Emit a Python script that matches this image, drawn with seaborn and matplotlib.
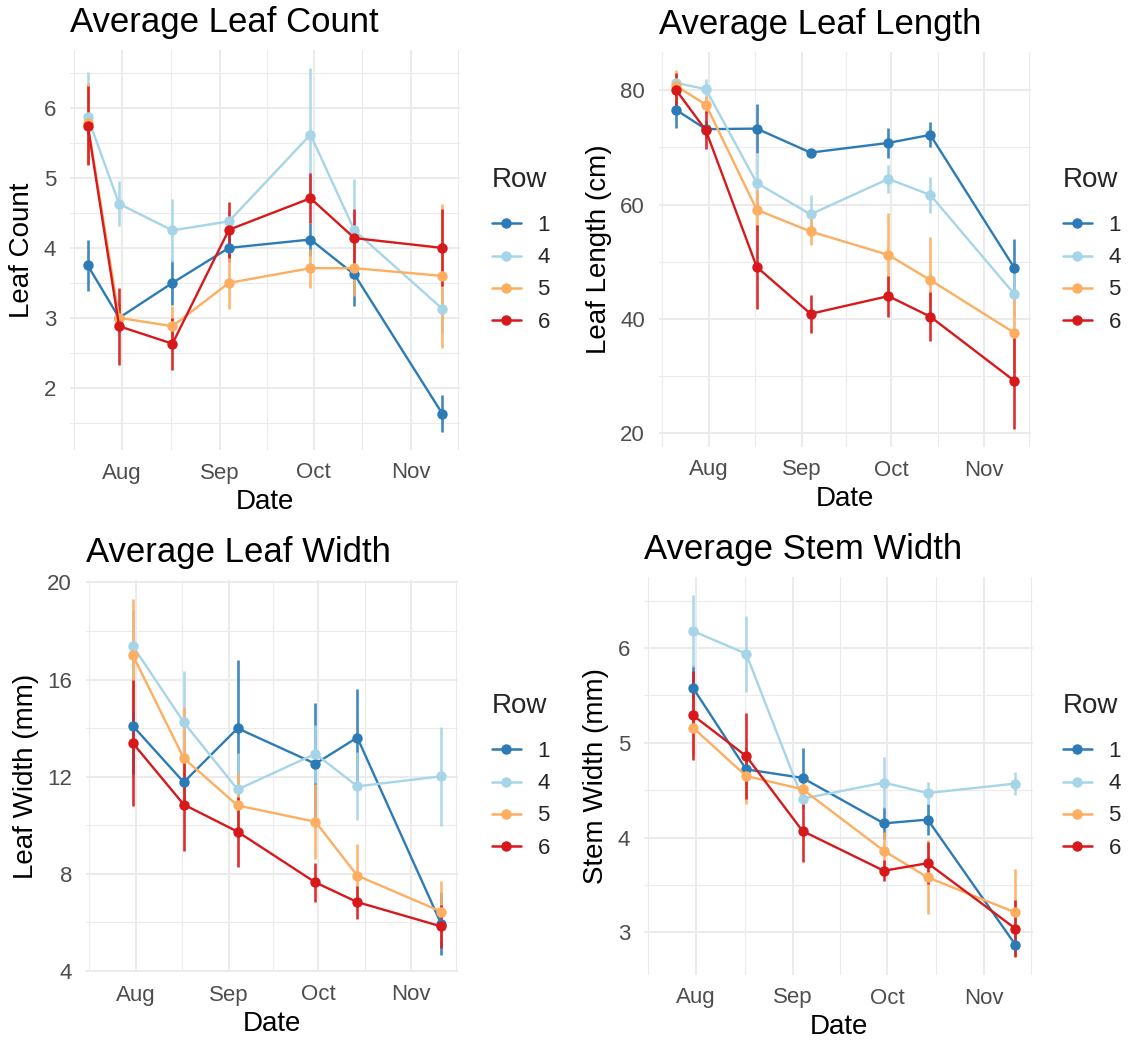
import numpy as np
import pandas as pd
import matplotlib
matplotlib.use("Agg")
import matplotlib.pyplot as plt
import matplotlib.dates as mdates
from matplotlib.lines import Line2D
from matplotlib.ticker import MultipleLocator, AutoMinorLocator
import seaborn as sns

# ---- data -------------------------------------------------------------
dates = pd.to_datetime(["2019-07-21", "2019-07-31", "2019-08-17", "2019-09-04",
                        "2019-09-30", "2019-10-14", "2019-11-11"])
rows = ["1", "4", "5", "6"]
nan = np.nan

count_mean = {
    "1": [3.75, 3.00, 3.50, 4.00, 4.12, 3.62, 1.63],
    "4": [5.87, 4.63, 4.25, 4.38, 5.62, 4.25, 3.13],
    "5": [5.78, 3.00, 2.88, 3.50, 3.71, 3.71, 3.60],
    "6": [5.75, 2.88, 2.63, 4.26, 4.71, 4.14, 4.00],
}
count_se = {
    "1": [0.36, 0.20, 0.32, 0.20, 0.24, 0.45, 0.26],
    "4": [0.64, 0.32, 0.45, 0.15, 0.95, 0.73, 0.35],
    "5": [0.58, 0.20, 0.29, 0.38, 0.28, 0.40, 1.03],
    "6": [0.57, 0.55, 0.37, 0.40, 0.36, 0.41, 0.55],
}
length_mean = {
    "1": [76.6, 73.2, 73.3, 69.1, 70.8, 72.2, 49.0],
    "4": [81.3, 80.2, 63.8, 58.3, 64.5, 61.7, 44.4],
    "5": [80.8, 77.5, 59.1, 55.3, 51.2, 46.8, 37.6],
    "6": [80.1, 73.0, 49.1, 40.9, 44.0, 40.4, 29.2],
}
length_se = {
    "1": [3.2, 1.5, 4.3, 0.7, 2.6, 2.2, 5.0],
    "4": [1.0, 1.7, 5.2, 3.3, 2.4, 3.1, 4.0],
    "5": [2.8, 1.5, 3.5, 2.3, 7.3, 7.5, 6.9],
    "6": [3.0, 3.3, 7.3, 3.3, 3.6, 4.3, 8.4],
}
width_mean = {
    "1": [nan, 14.09, 11.77, 13.99, 12.53, 13.61, 5.94],
    "4": [nan, 17.38, 14.24, 11.47, 12.94, 11.60, 12.01],
    "5": [nan, 17.00, 12.76, 10.81, 10.14, 7.92, 6.44],
    "6": [nan, 13.38, 10.85, 9.73, 7.64, 6.83, 5.83],
}
width_se = {
    "1": [nan, 2.0, 1.0, 2.8, 2.5, 2.0, 1.3],
    "4": [nan, 1.5, 2.1, 1.5, 1.2, 1.4, 2.05],
    "5": [nan, 2.3, 2.1, 1.35, 1.55, 1.3, 1.27],
    "6": [nan, 2.6, 1.9, 1.45, 0.8, 0.68, 0.9],
}
stem_mean = {
    "1": [nan, 5.58, 4.72, 4.63, 4.15, 4.19, 2.87],
    "4": [nan, 6.18, 5.94, 4.41, 4.58, 4.47, 4.57],
    "5": [nan, 5.16, 4.65, 4.51, 3.86, 3.58, 3.21],
    "6": [nan, 5.29, 4.86, 4.07, 3.65, 3.73, 3.04],
}
stem_se = {
    "1": [nan, 0.24, 0.15, 0.32, 0.17, 0.16, 0.10],
    "4": [nan, 0.38, 0.40, 0.10, 0.27, 0.12, 0.12],
    "5": [nan, 0.30, 0.30, 0.15, 0.20, 0.39, 0.46],
    "6": [nan, 0.47, 0.45, 0.33, 0.11, 0.22, 0.30],
}

palette = {"1": "#2C7BB6", "4": "#A6D5E8", "5": "#FDAE61", "6": "#D7191C"}

# ---- style ------------------------------------------------------------
sns.set_theme(style="white")
plt.rcParams["font.family"] = ["Liberation Sans", "DejaVu Sans"]

W, H = 1137, 1044
fig = plt.figure(figsize=(W / 100, H / 100), dpi=100)
fig.patch.set_facecolor("white")


def px_axes(left, top, right, bottom):
    return fig.add_axes([left / W, 1 - bottom / H, (right - left) / W, (bottom - top) / H])


def long_frame(means, ses):
    recs = []
    for r in rows:
        for d, m, s in zip(dates, means[r], ses[r]):
            recs.append({"Date": d, "Row": r, "mean": m, "se": s})
    df = pd.DataFrame(recs)
    df["lo"] = df["mean"] - df["se"]
    df["hi"] = df["mean"] + df["se"]
    return df.dropna()


span = dates.max() - dates.min()
xlim = (dates.min() - 0.05 * span, dates.max() + 0.05 * span)
month_starts = pd.date_range("2019-07-01", "2019-12-01", freq="MS")
mid_months = [a + (b - a) / 2 for a, b in zip(month_starts[:-1], month_starts[1:])]

grid_c = "#EBEBEB"


def panel(box, means, ses, title, ylabel, ylim, ystep, legend_xy):
    ax = px_axes(*box)
    df = long_frame(means, ses)
    for r in rows:
        sub = df[df["Row"] == r]
        ax.vlines(sub["Date"], sub["lo"], sub["hi"], color=palette[r],
                  lw=1.9, alpha=0.9, zorder=3)
    sns.lineplot(data=df, x="Date", y="mean", hue="Row", hue_order=rows,
                 palette=palette, marker="o", markersize=7.5, markeredgewidth=0,
                 linewidth=1.7, errorbar=None, legend=False, ax=ax, zorder=4)

    ax.set_xlim(xlim)
    ax.set_ylim(ylim)
    ax.xaxis.set_major_locator(mdates.MonthLocator())
    ax.xaxis.set_major_formatter(mdates.DateFormatter("%b"))
    ax.set_xticks(mid_months, minor=True)
    ax.yaxis.set_major_locator(MultipleLocator(ystep))
    ax.yaxis.set_minor_locator(AutoMinorLocator(2))

    ax.grid(which="major", color=grid_c, lw=1.4, zorder=0)
    ax.grid(which="minor", color=grid_c, lw=0.8, zorder=0)
    ax.set_axisbelow(True)
    for s in ax.spines.values():
        s.set_visible(False)
    ax.tick_params(which="both", length=0)
    ax.tick_params(axis="x", labelsize=16, labelcolor="#4D4D4D", pad=9)
    ax.tick_params(axis="y", labelsize=16, labelcolor="#4D4D4D", pad=10)

    ax.set_xlabel("Date", fontsize=20, color="black", labelpad=4)
    ax.set_ylabel(ylabel, fontsize=20, color="black", labelpad=6)
    ax.set_title(title, loc="left", fontsize=25, color="black", pad=13)

    handles = [Line2D([0], [0], color=palette[r], lw=1.8, marker="o",
                      markersize=7.5, markeredgewidth=0) for r in rows]
    leg = ax.legend(handles, rows, title="Row", loc="upper left",
                    bbox_to_anchor=(legend_xy[0] / W, 1 - legend_xy[1] / H),
                    bbox_transform=fig.transFigure, frameon=False,
                    fontsize=16, title_fontsize=20, handlelength=1.3,
                    handletextpad=0.75, labelspacing=0.5, borderpad=0,
                    borderaxespad=0)
    leg._legend_box.align = "left"
    leg._legend_box.sep = 16
    return ax


panel((70, 50, 460, 450), count_mean, count_se, "Average Leaf Count",
      "Leaf Count", (1.11, 6.83), 1, (492, 167))
panel((659, 52, 1031, 447), length_mean, length_se, "Average Leaf Length",
      "Leaf Length (cm)", (17.6, 86.7), 20, (1063, 167))
panel((86, 580, 458, 972), width_mean, width_se, "Average Leaf Width",
      "Leaf Width (mm)", (3.95, 20.1), 4, (492, 693))
panel((644, 577, 1033, 975), stem_mean, stem_se, "Average Stem Width",
      "Stem Width (mm)", (2.55, 6.75), 1, (1063, 693))

fig.savefig("out.png", dpi=100, facecolor="white")
